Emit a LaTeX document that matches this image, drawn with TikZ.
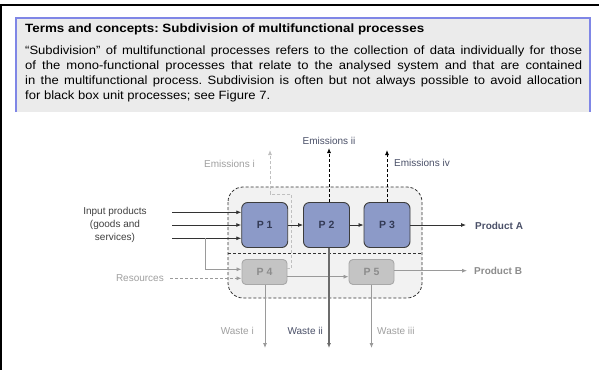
\documentclass[tikz,border=0pt]{standalone}
\usepackage{fontspec}
\setmainfont{Liberation Sans}
\usetikzlibrary{arrows.meta}
\frenchspacing
\definecolor{boxgray}{HTML}{EBEBEB}
\definecolor{boxblue}{HTML}{7F86E6}
\definecolor{pblue}{HTML}{8C9AC8}
\definecolor{pborder}{HTML}{3C3C3C}
\definecolor{ptext}{HTML}{333A55}
\definecolor{gfill}{HTML}{C4C4C4}
\definecolor{gborder}{HTML}{A8A8A8}
\definecolor{gtext}{HTML}{8C8C8C}
\definecolor{outerfill}{HTML}{F2F2F2}
\definecolor{darkline}{HTML}{333333}
\definecolor{grayline}{HTML}{9A9A9A}
\definecolor{lightline}{HTML}{C0C0C0}
\definecolor{darklbl}{HTML}{4A5068}
\definecolor{graylbl}{HTML}{A0A0A0}
\definecolor{inlbl}{HTML}{404040}
\newcommand{\bodyline}[1]{\scalebox{1.087}[1]{\makebox[512.4pt][s]{#1}}}
\begin{document}
\begin{tikzpicture}[x=1pt,y=-1pt,
  bodytxt/.style={anchor=base west, inner sep=0pt, font=\fontsize{12}{15}\selectfont},
  pbox/.style={draw=pborder, fill=pblue, rounded corners=6pt, minimum width=46pt, minimum height=45pt, inner sep=0pt, line width=0.9pt, text=ptext, font=\bfseries\fontsize{10.5}{12}\selectfont},
  gbox/.style={draw=gborder, fill=gfill, rounded corners=4pt, minimum width=45pt, minimum height=25pt, inner sep=0pt, line width=0.9pt, text=gtext, font=\bfseries\fontsize{10.5}{12}\selectfont},
  darr/.style={-{Latex[length=5pt,width=4pt]}, draw=darkline, line width=0.8pt},
  garr/.style={-{Latex[length=5pt,width=4pt]}, draw=grayline, color=grayline, line width=0.8pt},
  emdash/.style={-{Latex[length=5pt,width=4pt]}, draw=black, dash pattern=on 3pt off 2pt, line width=0.8pt},
  lbl/.style={inner sep=0pt, font=\fontsize{10}{12}\selectfont},
]
\useasboundingbox (0,0) rectangle (599,370);
\fill[white] (0,0) rectangle (599,370);
% frame
\draw[line width=2pt] (0,5) -- (599,5);
\draw[line width=1.5pt] (0.75,5) -- (0.75,370);
% text box
\fill[boxgray] (16,18) rectangle (590,112);
\draw[boxblue, line width=1.5pt] (16,112) -- (16,18) -- (590,18) -- (590,112);
\node[anchor=base west, inner sep=0pt, font=\bfseries\fontsize{12}{14}\selectfont] (title) at (25,32.5) {\scalebox{1.115}[1]{Terms and concepts: Subdivision of multifunctional processes}};
\node[bodytxt] (b1) at (25,54.5) {\bodyline{“Subdivision” of multifunctional processes refers to the collection of data individually for those}};
\node[bodytxt] (b2) at (25,69.5) {\bodyline{of the mono-functional processes that relate to the analysed system and that are contained}};
\node[bodytxt] (b3) at (25,84.5) {\bodyline{in the multifunctional process. Subdivision is often but not always possible to avoid allocation}};
\node[bodytxt] (b4) at (25,99.5) {\scalebox{1.087}[1]{for black box unit processes; see Figure 7.}};
% diagram container
\draw[darkline, fill=outerfill, dash pattern=on 3pt off 2pt, line width=0.8pt, rounded corners=15pt] (228,187) rectangle (422,298);
\draw[darkline, dash pattern=on 3pt off 2pt, line width=0.8pt] (228,253) -- (422,253);
% processes
\node[pbox] (P1) at (264.7,225) {P 1};
\node[pbox] (P2) at (326.5,225) {P 2};
\node[pbox] (P3) at (387,225) {P 3};
\node[gbox] (P4) at (264.5,272) {P 4};
\node[gbox] (P5) at (371.5,272) {P 5};
% coordinates
\coordinate (in1) at (172,212.3);
\coordinate (in2) at (172,225);
\coordinate (in3) at (172,238.3);
\coordinate (br) at (205.7,238.3);
\coordinate (res) at (170,278.3);
\coordinate (e1) at (270,150);
\coordinate (e2) at (329,148);
\coordinate (e4) at (387,150);
\coordinate (pa) at (466,225);
\coordinate (pb) at (467,270.7);
\coordinate (w1) at (265,348);
\coordinate (w2) at (329,348);
\coordinate (w3) at (371.5,348);
% emissions i path (light)
\draw[-{Latex[length=5pt,width=4pt]}, lightline, dash pattern=on 3pt off 2pt, line width=0.8pt]
  ([yshift=3.7pt]P4.east) -- ++(4.3,0) |- (270,194) -- (e1);
% inputs
\draw[darr] (in1) -- (in1 -| P1.west);
\draw[darr] (in2) -- (in2 -| P1.west);
\draw[darr] (in3) -- (in3 -| P1.west);
\draw[garr] (br) |- ([yshift=2.7pt]P4.west);
\draw[garr, dash pattern=on 3pt off 2pt] (res) -- ([yshift=-6.3pt]P4.west);
% main chain
\draw[darr] (P1) -- (P2);
\draw[darr] (P2) -- (P3);
\draw[darr] (P3.east) -- (pa);
\draw[garr] ([yshift=-4.7pt]P4.east) -- ([yshift=-4.7pt]P5.west);
\draw[garr] ([yshift=1.3pt]P5.east) -- (pb);
% emissions
\draw[emdash] ([xshift=2.5pt]P2.north) -- (e2);
\draw[emdash] (P3.north) -- (e4);
% waste
\draw[garr] ([xshift=0.5pt]P4.south) -- (w1);
\draw[-{Latex[length=5pt,width=4pt]}, draw=gray!85!black, line width=1.1pt] ([xshift=2.5pt]P2.south) -- (w2);
\draw[garr] (P5.south) -- (w3);
% labels
\node[lbl, anchor=east, text=graylbl] (le1) at (255,164) {Emissions i};
\node[lbl, anchor=south, text=darklbl] (le2) at (329,145) {Emissions ii};
\node[lbl, anchor=west, text=darklbl] (le4) at (394,163) {Emissions iv};
\node[lbl, align=center, text=inlbl, font=\fontsize{10}{13.3}\selectfont] (lin) at (115,225) {Input products\\(goods and\\services)};
\node[lbl, anchor=east, text=graylbl] (lres) at (164,278) {Resources};
\node[lbl, anchor=west, text=darklbl, font=\bfseries\fontsize{10}{12}\selectfont] (lpa) at (475,225.7) {Product A};
\node[lbl, anchor=west, text=gtext, font=\bfseries\fontsize{10}{12}\selectfont] (lpb) at (474,270.7) {Product B};
\node[lbl, anchor=east, text=graylbl] (lw1) at (254,330.7) {Waste i};
\node[lbl, anchor=east, text=darklbl] (lw2) at (323,330.7) {Waste ii};
\node[lbl, anchor=west, text=graylbl] (lw3) at (377,330.7) {Waste iii};
\end{tikzpicture}
\end{document}
